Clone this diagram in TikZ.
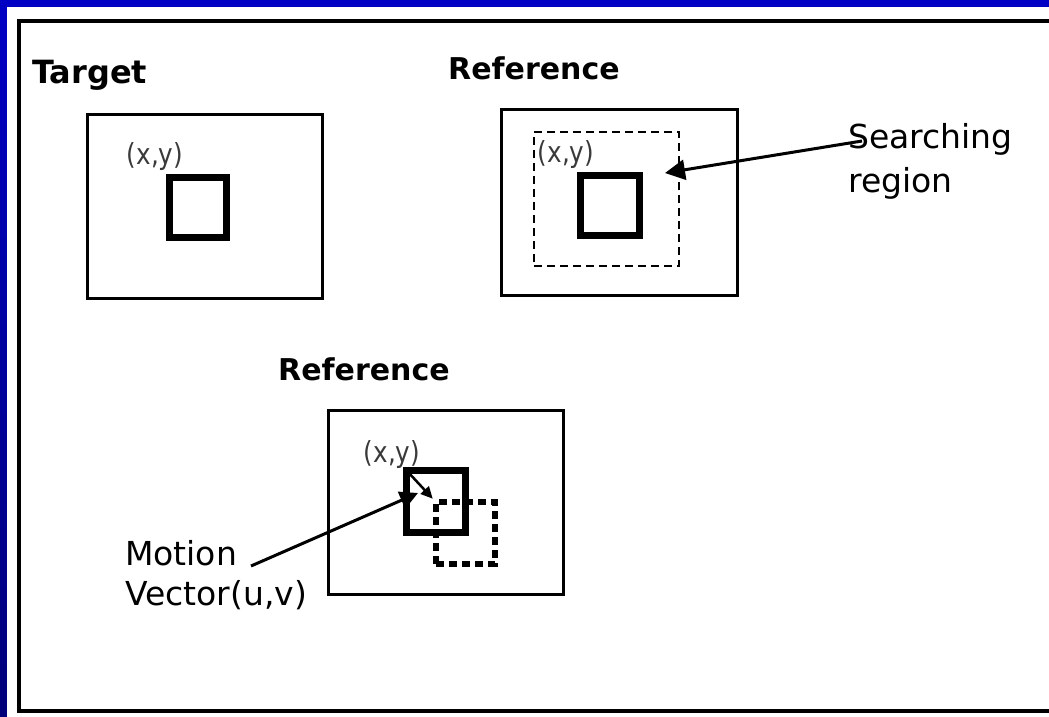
\documentclass[tikz,border=0pt]{standalone}
\usepackage{fontspec}
\setmainfont{DejaVu Sans}
\usetikzlibrary{arrows.meta}
\definecolor{slideblue}{HTML}{0000C4}
\definecolor{slidenavy}{HTML}{00007A}
\definecolor{labelgray}{HTML}{3A3A3A}
\tikzset{
  framebox/.style={draw, line width=3pt, inner sep=0pt},
  blockbox/.style={draw, line width=7pt, inner sep=0pt},
  searchbox/.style={draw, line width=2.5pt, inner sep=0pt, dash pattern=on 8pt off 5pt},
  movedbox/.style={draw, line width=6.5pt, inner sep=0pt, dash pattern=on 8pt off 5pt},
  titletext/.style={font=\fontsize{30}{36}\selectfont\bfseries, anchor=base west, inner sep=0pt},
  notetext/.style={font=\fontsize{33}{40}\selectfont, anchor=base west, inner sep=0pt},
  xylab/.style={text=labelgray, inner sep=0pt},
  pointer/.style={line width=3pt, -{Triangle[length=20pt,width=20pt]}},
  shiftarrow/.style={line width=2.5pt, -{Triangle[length=12pt,width=11pt]}}
}
\newcommand{\xylabel}{\scalebox{0.85}[1]{\fontsize{29}{29}\selectfont (x,y)}}
\begin{document}
\begin{tikzpicture}[x=1pt,y=-1pt]
\useasboundingbox (0,0) rectangle (1049,717);
\clip (0,0) rectangle (1049,717);
% slide background
\fill[slideblue] (0,0) rectangle (1049,7);
\shade[top color=slideblue, bottom color=slidenavy] (0,0) rectangle (7,717);
\fill[white] (7,7) rectangle (1049,717);
\draw[line width=3.5pt] (19,21) rectangle (1070,711);

% target frame
\node[titletext, font=\fontsize{32}{36}\selectfont\bfseries] (ttarget) at (32,84) {Target};
\node[framebox, minimum width=235pt, minimum height=184pt] (tframe) at (204.5,206) {};
\node[blockbox, minimum width=57.5pt, minimum height=60.5pt] (tblock) at (198,207.5) {};
\node[xylab] (txy) at (155,157) {\xylabel};

% reference frame with searching region
\node[titletext] (rtitle) at (448,80) {Reference};
\node[framebox, minimum width=236pt, minimum height=186pt] (rframe) at (619,202) {};
\node[searchbox, minimum width=145pt, minimum height=134pt] (rsearch) at (606.5,199) {};
\node[blockbox, minimum width=59pt, minimum height=60pt] (rblock) at (609.5,205) {};
\node[xylab] (rxy) at (566,155) {\xylabel};
\node[notetext] (search1) at (848,148) {Searching};
\node[notetext] (search2) at (848,192) {region};
\coordinate (sfrom) at (862,141);
\coordinate (sto) at (665,173);
\draw[pointer] (sfrom) -- (sto);

% reference frame with the best match and its motion vector
\node[titletext] (mtitle) at (278,380) {Reference};
\node[framebox, minimum width=235pt, minimum height=184pt] (mframe) at (445.5,502) {};
\node[blockbox, minimum width=59pt, minimum height=62pt] (mblock) at (435.5,501) {};
\node[movedbox, minimum width=59pt, minimum height=62pt] (mmoved) at (465.5,533) {};
\node[xylab] (mxy) at (392,455) {\xylabel};
\coordinate (vfrom) at (408,472);
\draw[shiftarrow] (vfrom) -- (mmoved.north west);
\node[notetext] (motion1) at (125,565) {Motion};
\node[notetext] (motion2) at (125,605) {Vector(u,v)};
\coordinate (mfrom) at (251,566);
\coordinate (mto) at (418,493);
\draw[line width=3pt, -{Triangle[length=18pt,width=18pt]}] (mfrom) -- (mto);
\end{tikzpicture}
\end{document}
